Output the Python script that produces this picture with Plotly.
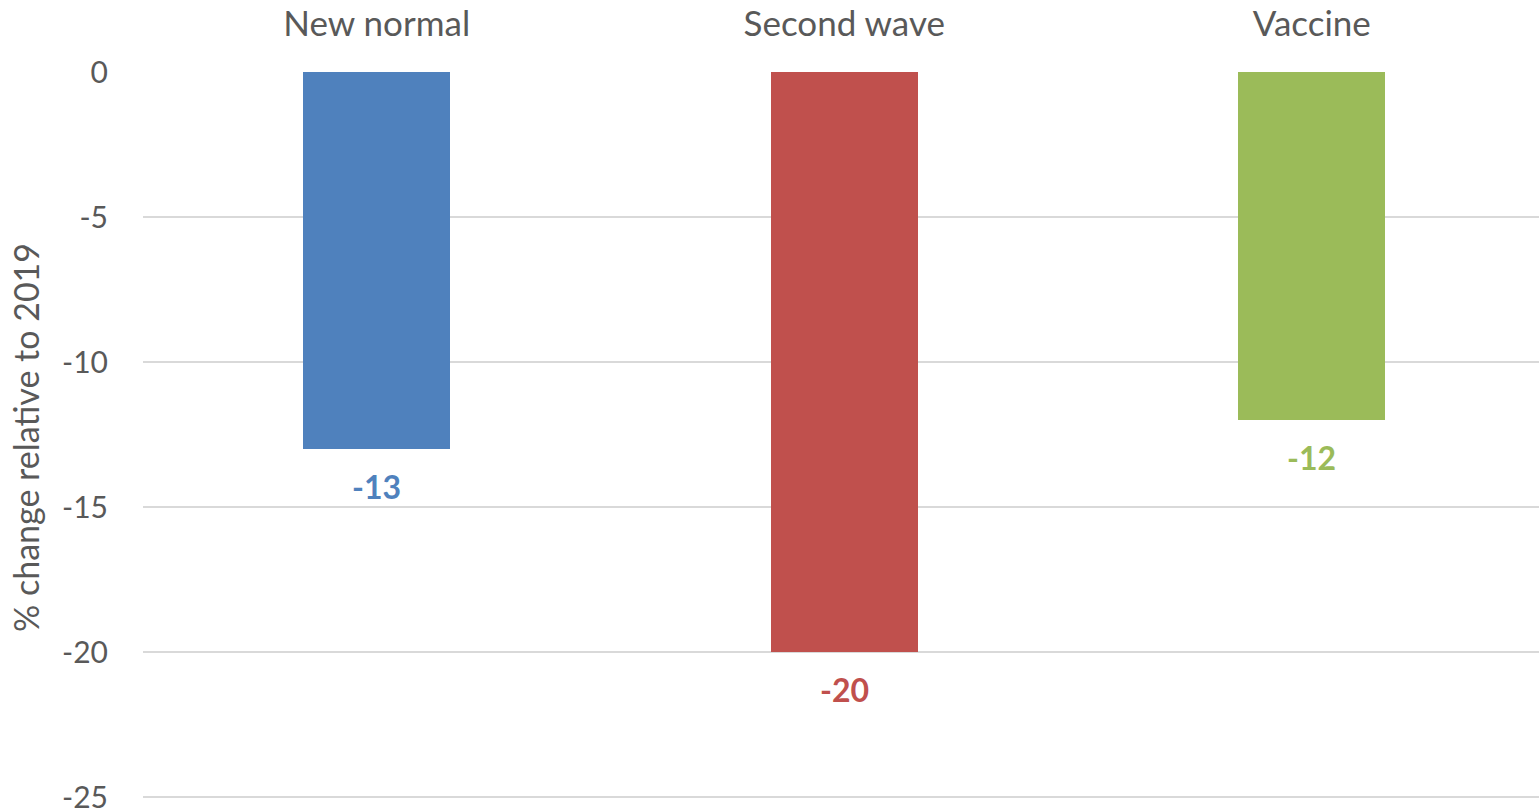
import plotly.graph_objects as go

# Scenario results: percentage change compared with 2019
scenarios = ["New normal", "Second wave", "Vaccine"]
change_pct = [-13, -20, -12]
bar_colors = ["#4F81BD", "#C0504D", "#9BBB59"]
y_ticks = [0, -5, -10, -15, -20, -25]
y_tick_text = ["0", "-5", "-10", "-15", "-20", "-25"]

FONT = "Lato"
TEXT_GREY = "#595959"

fig = go.Figure()
fig.add_trace(go.Bar(
    x=scenarios,
    y=change_pct,
    marker=dict(color=bar_colors, line=dict(width=0)),
    width=0.314,
    showlegend=False,
    hoverinfo="x+y",
))

# Value labels just below each bar end, in the bar's colour
for cat, val, col in zip(scenarios, change_pct, bar_colors):
    fig.add_annotation(
        x=cat, y=val, text=f"<b>{val}</b>",
        showarrow=False, yanchor="middle", yshift=-37,
        font=dict(family=FONT, size=32, color=col),
    )

fig.update_layout(
    width=1539, height=811,
    margin=dict(l=143, r=0, t=72, b=8),
    paper_bgcolor="white", plot_bgcolor="white",
    font=dict(family=FONT, color=TEXT_GREY),
    bargap=0,
    xaxis=dict(
        side="top",
        range=[-0.5, 2.486],
        showgrid=False, zeroline=False, showline=False,
        ticks="", tickfont=dict(size=35, color=TEXT_GREY),
        ticklabelstandoff=28, automargin=False,
    ),
    yaxis=dict(
        range=[-25.2, 0],
        tickvals=y_ticks, ticktext=y_tick_text,
        showgrid=True, gridcolor="#D9D9D9", gridwidth=2,
        zeroline=False, showline=False, ticks="",
        tickfont=dict(size=30, color=TEXT_GREY),
        ticklabelstandoff=34, automargin=False,
        ticklabeloverflow="allow",
        title=dict(text="% change relative to 2019",
                   font=dict(size=34, color=TEXT_GREY), standoff=12),
    ),
)

fig.write_html("out.html")
